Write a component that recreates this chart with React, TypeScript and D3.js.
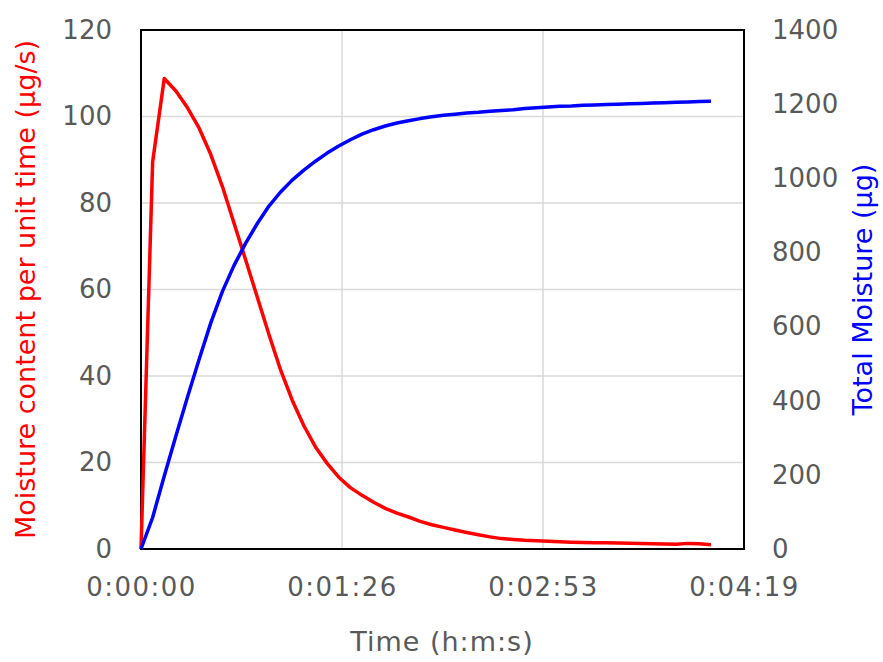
import { useEffect, useMemo, useRef } from "react";
import * as d3 from "d3";

const WIDTH = 883;
const HEIGHT = 662;
const MARGIN = { top: 30, right: 139, bottom: 113, left: 141 };
const FONT = "'DejaVu Sans', Verdana, sans-serif";
const TICK_COLOR = "#595959";

// time in seconds since start (sample every 5 s)
const timeSec = [
  0, 5, 10, 15, 20, 25, 30, 35, 40, 45, 50, 55, 60, 65, 70, 75, 80, 85, 90, 95,
  100, 105, 110, 115, 120, 125, 130, 135, 140, 145, 150, 155, 160, 165, 170,
  175, 180, 185, 190, 195, 200, 205, 210, 215, 220, 225, 230, 235, 240, 245,
];

// moisture per unit time (µg/s)
const moistureRate = [
  0, 89.5, 108.8, 105.9, 102.0, 97.3, 91.2, 83.8, 75.3, 66.8, 58.2, 49.6, 41.4,
  34.4, 28.5, 23.6, 19.8, 16.6, 14.2, 12.4, 10.8, 9.4, 8.3, 7.4, 6.4, 5.6, 5.0,
  4.4, 3.8, 3.3, 2.8, 2.4, 2.2, 2.0, 1.9, 1.8, 1.65, 1.55, 1.5, 1.45, 1.45, 1.4,
  1.35, 1.3, 1.2, 1.15, 1.1, 1.3, 1.2, 1.0,
];

// total moisture (µg)
const totalMoisture = [
  0, 85, 197, 305, 410, 512, 610, 695, 765, 825, 878, 925, 963, 995, 1022,
  1046, 1068, 1087, 1104, 1119, 1131, 1141, 1149, 1155, 1161, 1166, 1170, 1173,
  1176, 1178, 1181, 1183, 1185, 1188, 1190, 1192, 1194, 1195, 1197, 1198, 1199,
  1200, 1201, 1202, 1203, 1204, 1205, 1206, 1207, 1208,
];

const xTicks = [0, 86.4, 172.8, 259.2];
const xTickLabels = ["0:00:00", "0:01:26", "0:02:53", "0:04:19"];
const leftTicks = [0, 20, 40, 60, 80, 100, 120];
const rightTicks = [0, 200, 400, 600, 800, 1000, 1200, 1400];

export default function App() {
  const axesRef = useRef<SVGGElement>(null);
  const boundsWidth = WIDTH - MARGIN.left - MARGIN.right;
  const boundsHeight = HEIGHT - MARGIN.top - MARGIN.bottom;
  const x0 = MARGIN.left;
  const y0 = MARGIN.top;

  const xScale = useMemo(
    () => d3.scaleLinear().domain([0, 259.2]).range([x0, x0 + boundsWidth]),
    [boundsWidth]
  );
  const yLeft = useMemo(
    () => d3.scaleLinear().domain([0, 120]).range([y0 + boundsHeight, y0]),
    [boundsHeight]
  );
  const yRight = useMemo(
    () => d3.scaleLinear().domain([0, 1400]).range([y0 + boundsHeight, y0]),
    [boundsHeight]
  );

  const redLine = d3
    .line<number>()
    .x((_, i) => xScale(timeSec[i]))
    .y((d) => yLeft(d))(moistureRate);
  const blueLine = d3
    .line<number>()
    .x((_, i) => xScale(timeSec[i]))
    .y((d) => yRight(d))(totalMoisture);

  // axes through d3
  useEffect(() => {
    const g = d3.select(axesRef.current);
    g.selectAll("*").remove();

    const left = g
      .append("g")
      .attr("transform", `translate(${x0},0)`)
      .call(d3.axisLeft(yLeft).tickValues(leftTicks).tickSize(0).tickPadding(29));
    const right = g
      .append("g")
      .attr("transform", `translate(${x0 + boundsWidth},0)`)
      .call(
        d3
          .axisRight(yRight)
          .tickValues(rightTicks)
          .tickSize(0)
          .tickPadding(28)
          .tickFormat(d3.format("d"))
      );
    const bottom = g
      .append("g")
      .attr("transform", `translate(0,${y0 + boundsHeight})`)
      .call(
        d3
          .axisBottom(xScale)
          .tickValues(xTicks)
          .tickSize(0)
          .tickPadding(29)
          .tickFormat((_, i) => xTickLabels[i])
      );

    [left, right, bottom].forEach((a) => {
      a.select(".domain").remove();
      a.selectAll("text")
        .attr("fill", TICK_COLOR)
        .style("font-family", FONT)
        .style("font-size", "26px");
    });
    bottom.selectAll("text").style("letter-spacing", "1.5px");
  }, [xScale, yLeft, yRight, boundsWidth, boundsHeight]);

  return (
    <svg
      width={WIDTH}
      height={HEIGHT}
      style={{ position: "absolute", left: 0, top: 0, background: "#fff" }}
    >
      <rect width={WIDTH} height={HEIGHT} fill="#fff" />
      {/* grid */}
      {leftTicks.slice(1, -1).map((t) => (
        <line
          key={"h" + t}
          x1={x0}
          x2={x0 + boundsWidth}
          y1={yLeft(t)}
          y2={yLeft(t)}
          stroke="#d9d9d9"
          strokeWidth={1.5}
        />
      ))}
      {xTicks.slice(1, -1).map((t) => (
        <line
          key={"v" + t}
          x1={xScale(t)}
          x2={xScale(t)}
          y1={y0}
          y2={y0 + boundsHeight}
          stroke="#d9d9d9"
          strokeWidth={1.5}
        />
      ))}
      <rect
        x={x0}
        y={y0}
        width={boundsWidth}
        height={boundsHeight}
        fill="none"
        stroke="#000"
        strokeWidth={2}
      />
      <path d={redLine ?? ""} fill="none" stroke="#ff0000" strokeWidth={3.5} strokeLinejoin="round" />
      <path d={blueLine ?? ""} fill="none" stroke="#0000ff" strokeWidth={3.5} strokeLinejoin="round" />
      <g ref={axesRef} />
      {/* titles */}
      <text
        x={442}
        y={643}
        textAnchor="middle"
        dominantBaseline="middle"
        fill={TICK_COLOR}
        style={{ fontFamily: FONT, fontSize: 27, letterSpacing: "1px" }}
      >
        Time (h:m:s)
      </text>
      <text
        transform={`translate(27,${y0 + boundsHeight / 2}) rotate(-90)`}
        textAnchor="middle"
        dominantBaseline="middle"
        fill="#ff0000"
        style={{ fontFamily: FONT, fontSize: 27 }}
      >
        Moisture content per unit time (μg/s)
      </text>
      <text
        transform={`translate(864,${y0 + boundsHeight / 2}) rotate(-90)`}
        textAnchor="middle"
        dominantBaseline="middle"
        fill="#0000ff"
        style={{ fontFamily: FONT, fontSize: 27 }}
      >
        Total Moisture (μg)
      </text>
    </svg>
  );
}
